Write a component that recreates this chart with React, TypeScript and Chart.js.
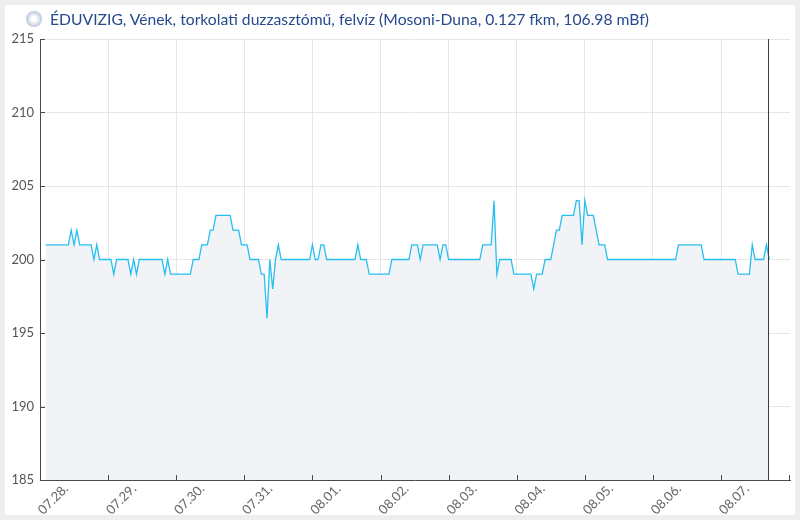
import React, { useEffect, useRef } from "react";
import { Chart, registerables } from "chart.js";

Chart.register(...registerables);

const TITLE =
  "ÉDUVIZIG, Vének, torkolati duzzasztómű, felvíz (Mosoni-Duna, 0.127 fkm, 106.98 mBf)";

// day tick labels and their position (hours since 07.28. 00:00)
const dayLabels = [
  "07.28.", "07.29.", "07.30.", "07.31.", "08.01.", "08.02.",
  "08.03.", "08.04.", "08.05.", "08.06.", "08.07.",
];
const dayTickHours = [0, 24, 48, 72, 96, 120, 144, 168, 192, 216, 240];

const yTicks = [185, 190, 195, 200, 205, 210, 215];
const yMin = 185;
const yMax = 215;
const xMinHour = 0;
const xMaxHour = 264.3;

// first reading: 07.28. 02:00, hourly readings afterwards
const startHour = 2;
const nowHour = 256.4;

// water level (cm), hourly
const waterLevels = [
  201, 201, 201, 201, 201, 201, 201, 201, 201,
  202, 201, 202, 201, 201, 201, 201, 201,
  200, 201, 200, 200, 200, 200, 200,
  199, 200, 200, 200, 200, 200, 199, 200, 199,
  200, 200, 200, 200, 200, 200, 200, 200, 200,
  199, 200, 199, 199, 199, 199, 199, 199, 199, 199,
  200, 200, 200, 201, 201, 201, 202, 202,
  203, 203, 203, 203, 203, 203, 202, 202, 202,
  201, 201, 201, 200, 200, 200, 200, 199, 199,
  196, 200, 198, 200, 201,
  200, 200, 200, 200, 200, 200, 200, 200, 200, 200, 200,
  201, 200, 200, 201, 201,
  200, 200, 200, 200, 200, 200, 200, 200, 200, 200, 200,
  201, 200, 200, 200,
  199, 199, 199, 199, 199, 199, 199, 199,
  200, 200, 200, 200, 200, 200, 200,
  201, 201, 201, 200, 201, 201, 201, 201, 201, 201, 200, 201, 201,
  200, 200, 200, 200, 200, 200, 200, 200, 200, 200, 200, 200,
  201, 201, 201, 201, 204, 199,
  200, 200, 200, 200, 200,
  199, 199, 199, 199, 199, 199, 199, 198, 199, 199, 199,
  200, 200, 200, 201, 202, 202,
  203, 203, 203, 203, 203, 204, 204, 201, 204,
  203, 203, 203, 202, 201, 201, 201,
  200, 200, 200, 200, 200, 200, 200, 200, 200, 200, 200, 200, 200,
  200, 200, 200, 200, 200, 200, 200, 200, 200, 200, 200, 200,
  201, 201, 201, 201, 201, 201, 201, 201, 201,
  200, 200, 200, 200, 200, 200, 200, 200, 200, 200, 200, 200,
  199, 199, 199, 199, 199, 201, 200, 200, 200, 200, 201, 200,
];

const axisColor = "#4a4a4a";
const gridColor = "#e6e6e6";

const inwardTicks = {
  id: "inwardTicks",
  afterDatasetsDraw(chart: any) {
    const { ctx, chartArea, scales } = chart;
    const xs = scales.x;
    const ys = scales.y;
    ctx.save();
    ctx.strokeStyle = axisColor;
    ctx.lineWidth = 1;
    ctx.beginPath();
    xs.ticks.forEach((t: any) => {
      const px = Math.round(xs.getPixelForValue(t.value)) + 0.5;
      ctx.moveTo(px, chartArea.bottom);
      ctx.lineTo(px, chartArea.bottom - 5);
    });
    const rx = Math.round(chartArea.right) - 0.5;
    ctx.moveTo(rx, chartArea.bottom);
    ctx.lineTo(rx, chartArea.bottom - 5);
    ys.ticks.forEach((t: any) => {
      const py = Math.round(ys.getPixelForValue(t.value)) + 0.5;
      ctx.moveTo(chartArea.left, py);
      ctx.lineTo(chartArea.left + 5, py);
    });
    ctx.stroke();
    const nx = Math.round(xs.getPixelForValue(nowHour)) + 0.5;
    ctx.beginPath();
    ctx.strokeStyle = "#3c3c3c";
    ctx.moveTo(nx, chartArea.top);
    ctx.lineTo(nx, chartArea.bottom);
    ctx.stroke();
    ctx.restore();
  },
};

export default function App() {
  const canvasRef = useRef<HTMLCanvasElement | null>(null);

  useEffect(() => {
    const canvas = canvasRef.current;
    if (!canvas) return;
    const points = waterLevels.map((v, i) => ({ x: startHour + i, y: v }));
    const chart = new Chart(canvas, {
      type: "line",
      data: {
        datasets: [
          {
            data: points,
            borderColor: "#27bff0",
            borderWidth: 1.3,
            backgroundColor: "#f2f3f7",
            fill: "start",
            pointRadius: 0,
            tension: 0,
          },
        ],
      },
      options: {
        responsive: false,
        animation: false,
        layout: { padding: { top: 39, right: 10, left: 0, bottom: 0 } },
        plugins: {
          legend: { display: false },
          tooltip: { enabled: false },
          title: { display: false },
        },
        scales: {
          x: {
            type: "linear",
            min: xMinHour,
            max: xMaxHour,
            afterBuildTicks: (scale: any) => {
              scale.ticks = dayTickHours.map((v) => ({ value: v }));
            },
            afterFit: (scale: any) => {
              scale.height = 40;
            },
            ticks: {
              autoSkip: false,
              maxRotation: 45,
              minRotation: 45,
              labelOffset: 26,
              padding: 1,
              color: "#666666",
              font: { family: "Lato", size: 13 },
              callback: (_v: any, i: number) => dayLabels[i],
            },
            grid: { color: gridColor, drawTicks: false },
            border: { color: axisColor, width: 1 },
          },
          y: {
            min: yMin,
            max: yMax,
            afterBuildTicks: (scale: any) => {
              scale.ticks = yTicks.map((v) => ({ value: v }));
            },
            afterFit: (scale: any) => {
              scale.width = 40;
            },
            ticks: {
              padding: 6,
              color: "#555555",
              font: { family: "Lato", size: 13 },
            },
            grid: { color: gridColor, drawTicks: false },
            border: { color: axisColor, width: 1 },
          },
        },
      },
      plugins: [inwardTicks],
    });
    return () => chart.destroy();
  }, []);

  return (
    <div
      style={{
        position: "fixed",
        left: 0,
        top: 0,
        width: 800,
        height: 520,
        background: "#eeeeee",
        overflow: "hidden",
      }}
    >
      <div
        style={{
          position: "absolute",
          left: 5,
          top: 5,
          width: 790,
          height: 510,
          background: "#ffffff",
          overflow: "hidden",
        }}
      >
        <canvas
          ref={canvasRef}
          width={800}
          height={520}
          style={{ position: "absolute", left: -5, top: -5, width: 800, height: 520 }}
        />
        <div
          style={{
            position: "absolute",
            left: 21,
            top: 6,
            width: 16,
            height: 16,
            borderRadius: "50%",
            background: "radial-gradient(circle, #ffffff 20%, #c9d3e3 60%, #8c9fbf 100%)",
          }}
        />
        <div
          style={{
            position: "absolute",
            left: 45,
            top: 4,
            fontFamily: "Lato, sans-serif",
            fontSize: 15.7,
            color: "#264a8c",
            whiteSpace: "nowrap",
            lineHeight: "20px",
          }}
        >
          {TITLE}
        </div>
      </div>
    </div>
  );
}
